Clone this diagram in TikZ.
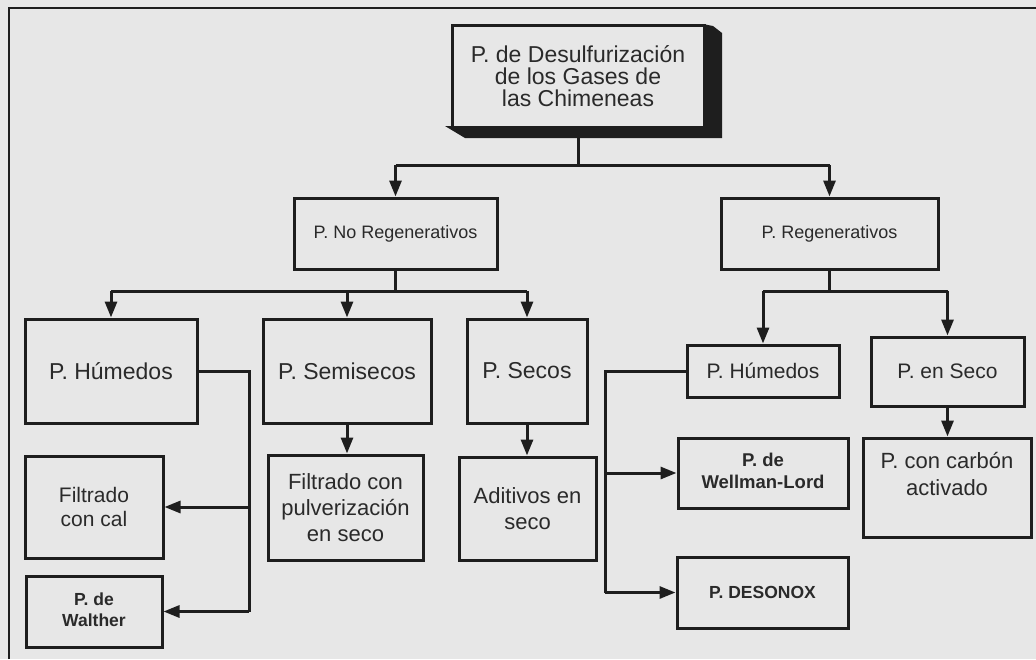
\documentclass[tikz,border=0pt]{standalone}
\usepackage{fontspec}
\setmainfont{Liberation Sans}
\usetikzlibrary{arrows.meta,calc}
\definecolor{paper}{HTML}{E7E7E7}
\definecolor{ink}{HTML}{1E1E1E}
\definecolor{type}{HTML}{2A2A2A}

% stacked, centred lines sharing one font
\newcommand\stacklines[1]{\begin{tabular}{@{}c@{}}#1\end{tabular}}

\begin{document}
\begin{tikzpicture}[x=1pt,y=-1pt,
  box/.style={draw=ink, line width=3pt, fill=paper, inner sep=0pt, align=center, text=type},
  txt/.style={inner sep=0pt, align=center, text=type},
  link/.style={draw=ink, line width=3pt},
  arr/.style={link, -{Triangle[length=16pt,width=12pt]}},
  big/.style={font=\fontsize{23}{22}\selectfont},
  mid/.style={font=\fontsize{22}{26}\selectfont},
  small/.style={font=\fontsize{18}{22}\selectfont},
]
% sheet and frame
\fill[paper] (0,0) rectangle (1036,659);
\useasboundingbox (0,0) rectangle (1036,659);
\draw[ink, line width=1.5pt] (9,659) -- (9,8) -- (1036,8);

% raised edge of the title box
\fill[ink] (445,126) -- (703,126) -- (703,24) -- (713,26) -- (722,33)
  -- (722,138) -- (465,138) -- cycle;

% boxes
\node[box, big, minimum width=252pt, minimum height=102pt] (top) at (578,76)
  {P. de Desulfurización\\de los Gases de\\las Chimeneas};
\node[box, small, minimum width=203pt, minimum height=71pt] (noreg) at (395.5,233.5)
  {P. No Regenerativos};
\node[box, small, minimum width=217pt, minimum height=71pt] (reg) at (829.5,233.5)
  {P. Regenerativos};

\node[box, big, minimum width=172pt, minimum height=104pt] (hum1) at (111,371) {P. Húmedos};
\node[box, big, minimum width=168pt, minimum height=104pt] (semi) at (347,371) {P. Semisecos};
\node[box, big, minimum width=120pt, minimum height=104pt] (secos) at (527,371) {P. Secos};

\node[box, font=\fontsize{21}{24}\selectfont, minimum width=138pt, minimum height=102pt] (filcal) at (94,507)
  {Filtrado\\con cal};
\node[box, minimum width=136pt, minimum height=71pt] (walther) at (94,611.5)
  {\fontsize{17.5}{21.5}\selectfont\bfseries\stacklines{P. de\\Walther}};
\node[box, mid, minimum width=155pt, minimum height=105pt] (filpul) at (345.5,507.5)
  {Filtrado con\\pulverización\\en seco};
\node[box, mid, minimum width=137pt, minimum height=103pt] (aditivos) at (527.5,508.5)
  {Aditivos en\\seco};

\node[box, font=\fontsize{21}{24}\selectfont, minimum width=152pt, minimum height=52pt] (hum2) at (763,371)
  {P. Húmedos};
\node[box, font=\fontsize{21}{24}\selectfont, minimum width=153pt, minimum height=69pt] (enseco) at (947.5,371.5)
  {P. en Seco};
\node[box, minimum width=168pt, minimum height=99pt] (carbon) at (947,487.5) {};
\node[txt, font=\fontsize{22}{27}\selectfont] (carbontext) at (947,474)
  {P. con carbón\\activado};
\node[box, minimum width=170pt, minimum height=70pt] (wellman) at (763,473)
  {\fontsize{18.5}{22}\selectfont\bfseries\stacklines{P. de\\Wellman-Lord}};
\node[box, font=\fontsize{17.5}{22}\selectfont\bfseries, minimum width=171pt, minimum height=71pt] (desonox) at (762.5,592.5)
  {P. DESONOX};

% junction points of the tree
\coordinate (j1) at (578,165);
\coordinate (j2) at (395.5,291);
\coordinate (j3) at (829.5,291);
\coordinate (v1) at (249,371);
\coordinate (v2) at (605,371);

% first level
\draw[link] (top.south) -- (j1);
\draw[link] (j1 -| noreg) -- (j1 -| reg);
\draw[arr] (j1 -| noreg) -- (noreg.north);
\draw[arr] (j1 -| reg) -- (reg.north);

% non-regenerative branch
\draw[link] (noreg.south) -- (j2);
\draw[link] (j2 -| hum1) -- (j2 -| secos);
\draw[arr] (j2 -| hum1) -- (hum1.north);
\draw[arr] (j2 -| semi) -- (semi.north);
\draw[arr] (j2 -| secos) -- (secos.north);

\draw[link] (hum1.east) -- (v1) -- (v1 |- walther.east);
\draw[arr] (v1 |- filcal.east) -- (filcal.east);
\draw[arr] (v1 |- walther.east) -- (walther.east);
\draw[arr] (semi.south) -- (semi.south |- filpul.north);
\draw[arr] (secos.south) -- (secos.south |- aditivos.north);

% regenerative branch
\draw[link] (reg.south) -- (j3);
\draw[link] (j3 -| hum2) -- (j3 -| enseco);
\draw[arr] (j3 -| hum2) -- (hum2.north);
\draw[arr] (j3 -| enseco) -- (enseco.north);
\draw[arr] (enseco.south) -- (enseco.south |- carbon.north);

\draw[link] (hum2.west) -- (v2) -- (v2 |- desonox.west);
\draw[arr] (v2 |- wellman.west) -- (wellman.west);
\draw[arr] (v2 |- desonox.west) -- (desonox.west);
\end{tikzpicture}
\end{document}
